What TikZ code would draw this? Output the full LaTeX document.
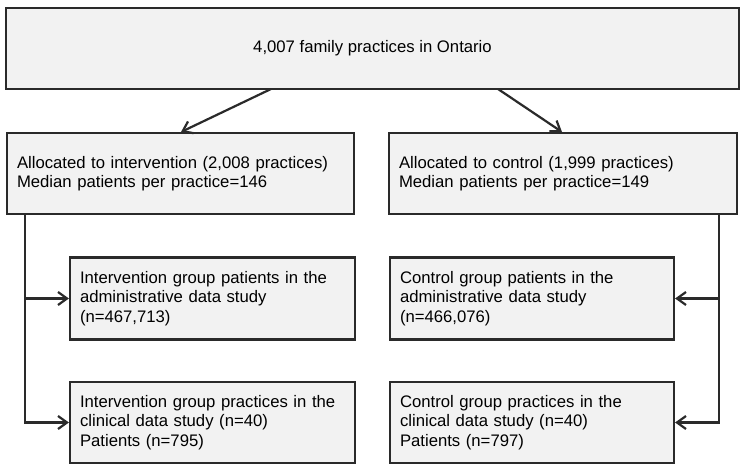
\documentclass[tikz,border=0pt]{standalone}
\usepackage{fontspec}
\setmainfont{Liberation Sans}
\usetikzlibrary{arrows.meta}
\definecolor{boxfill}{HTML}{F2F2F2}
\definecolor{edgecol}{HTML}{2A2A2A}
\begin{document}
\begin{tikzpicture}[x=1pt,y=-1pt,
  box/.style={draw=edgecol, fill=boxfill, line width=2.2pt, rectangle, inner xsep=10pt, inner ysep=0pt,
    align=left, font=\fontsize{16.7}{19.3}\selectfont, text=black},
  conn/.style={draw=edgecol, line width=2.2pt, -{Straight Barb[length=9pt,width=13pt]}}]
\useasboundingbox (0,0) rectangle (745,472);
\fill[white] (0,0) rectangle (745,472);

\node[box, align=center, minimum width=733pt, minimum height=81pt] (top) at (372.5,48.5)
  {\raisebox{-2pt}{4,007 family practices in Ontario}};

\node[box, minimum width=347pt, minimum height=81pt, text width=327pt] (L2) at (180.5,173.5)
  {Allocated to intervention (2,008 practices)\\Median patients per practice=146};
\node[box, minimum width=348pt, minimum height=81pt, text width=328pt] (R2) at (563,173.5)
  {Allocated to control (1,999 practices)\\Median patients per practice=149};

\node[box, minimum width=285pt, minimum height=82pt, text width=265pt] (L3) at (212.5,298.5)
  {Intervention group patients in the\\administrative data study\\(n=467,713)};
\node[box, minimum width=285pt, minimum height=81pt, text width=265pt] (L4) at (212.5,422.5)
  {Intervention group practices in the\\clinical data study (n=40)\\Patients (n=795)};
\node[box, minimum width=284pt, minimum height=82pt, text width=264pt] (R3) at (532,298.5)
  {Control group patients in the\\administrative data study\\(n=466,076)};
\node[box, minimum width=284pt, minimum height=81pt, text width=264pt] (R4) at (532,422.5)
  {Control group practices in the\\clinical data study (n=40)\\Patients (n=797)};

\coordinate (t1) at (271,89);
\coordinate (a1) at (181,132);
\coordinate (t2) at (498,89);
\coordinate (a2) at (562,132);
\draw[conn] (t1) -- (a1);
\draw[conn] (t2) -- (a2);

\coordinate (ltop) at (25,214);
\coordinate (ljoin) at (25,298.5);
\coordinate (rtop) at (719,214);
\coordinate (rjoin) at (719,298.5);
\draw[conn] (ltop) |- (L4.west);
\draw[conn] (ljoin) -- (L3.west);
\draw[conn] (rtop) |- (R4.east);
\draw[conn] (rjoin) -- (R3.east);
\end{tikzpicture}
\end{document}
